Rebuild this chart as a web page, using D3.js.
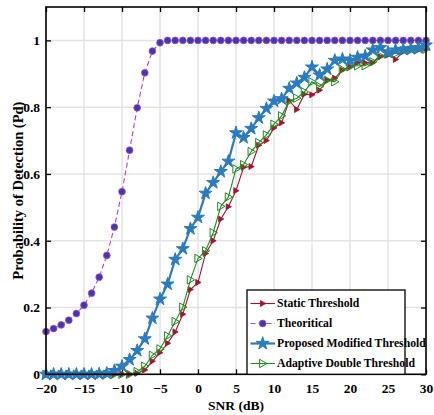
<!DOCTYPE html>
<html>
<head>
<meta charset="utf-8">
<script src="https://cdn.jsdelivr.net/npm/d3@7"></script>
<style>
  html, body { margin: 0; padding: 0; background: #fff; }
  svg { display: block; }
  text { font-family: "Liberation Serif", "Times New Roman", serif; font-weight: bold; }
</style>
</head>
<body>
<svg id="chart" width="434" height="415"></svg>
<script>
// SNR values in dB
const snr = d3.range(-20, 31, 1);

// Probability of detection for each method (one value per SNR step)
const staticThreshold = [
  0, 0, 0, 0, 0, 0, 0, 0, 0, 0, 0, 0, 0.003, 0.013, 0.039, 0.065, 0.093, 0.127, 0.18, 0.254,
  0.275, 0.362, 0.4, 0.465, 0.502, 0.55, 0.62, 0.622, 0.686, 0.70, 0.738, 0.753, 0.82, 0.793, 0.839,
  0.837, 0.851, 0.881, 0.887, 0.911, 0.921, 0.933, 0.933, 0.933, 0.951, 0.956, 0.943, 0.966, 0.971, 0.973, 0.976
];
const theoretical = [
  0.128, 0.137, 0.148, 0.162, 0.182, 0.207, 0.243, 0.291, 0.356, 0.441, 0.547, 0.671, 0.798, 0.903, 0.968, 0.993,
  1, 1, 1, 1, 1, 1, 1, 1, 1, 1, 1, 1, 1, 1, 1, 1, 1, 1, 1,
  1, 1, 1, 1, 1, 1, 1, 1, 1, 1, 1, 1, 1, 1, 1, 1
];
const proposed = [
  0, 0, 0, 0, 0, 0, 0, 0.001, 0.003, 0.011, 0.024, 0.044, 0.071, 0.106, 0.168, 0.225, 0.27, 0.344, 0.376, 0.436,
  0.47, 0.542, 0.574, 0.607, 0.638, 0.723, 0.709, 0.736, 0.768, 0.796, 0.818, 0.825, 0.856, 0.872, 0.889,
  0.92, 0.896, 0.914, 0.94, 0.944, 0.94, 0.949, 0.953, 0.971, 0.978, 0.964, 0.971, 0.973, 0.975, 0.978, 0.986
];
const adaptive = [
  0, 0, 0, 0, 0, 0, 0, 0, 0, 0, 0, 0, 0.008, 0.024, 0.057, 0.076, 0.115, 0.158, 0.201, 0.283,
  0.347, 0.37, 0.424, 0.503, 0.531, 0.615, 0.628, 0.667, 0.694, 0.717, 0.749, 0.774, 0.818, 0.827, 0.846,
  0.876, 0.862, 0.881, 0.876, 0.913, 0.921, 0.924, 0.924, 0.936, 0.953, 0.959, 0.961, 0.969, 0.971, 0.973, 0.974
];

const xTicks = [-20, -15, -10, -5, 0, 5, 10, 15, 20, 25, 30];
const yTicks = [0, 0.2, 0.4, 0.6, 0.8, 1];
const seriesNames = ["Static Threshold", "Theoritical", "Proposed Modified Threshold", "Adaptive Double Threshold"];

const svg = d3.select("#chart");
const m = { left: 46, right: 426, top: 7, bottom: 374.3 };

const x = d3.scaleLinear().domain([-20, 30]).range([m.left, m.right]);
const y = d3.scaleLinear().domain([0, 1.1]).range([m.bottom, m.top]);

// grid
const grid = svg.append("g");
grid.selectAll(".gx").data(xTicks).join("line")
  .attr("x1", d => x(d)).attr("x2", d => x(d)).attr("y1", m.top).attr("y2", m.bottom)
  .attr("stroke", "#e3e3e3").attr("stroke-width", 1.5);
grid.selectAll(".gy").data(yTicks).join("line")
  .attr("x1", m.left).attr("x2", m.right).attr("y1", d => y(d)).attr("y2", d => y(d))
  .attr("stroke", "#e3e3e3").attr("stroke-width", 1.5);

// axes with inward ticks on all four sides
const tickLen = 5;
const bottomAxis = d3.axisBottom(x).tickValues(xTicks).tickSizeInner(-tickLen).tickSizeOuter(0).tickPadding(9);
const leftAxis = d3.axisLeft(y).tickValues(yTicks).tickSizeInner(-tickLen).tickSizeOuter(0).tickPadding(6)
  .tickFormat(d => d === 0 ? "0" : d === 1 ? "1" : d3.format(".1f")(d));
const topAxis = d3.axisTop(x).tickValues(xTicks).tickSizeInner(-tickLen).tickSizeOuter(0).tickFormat("");
const rightAxis = d3.axisRight(y).tickValues(yTicks).tickSizeInner(-tickLen).tickSizeOuter(0).tickFormat("");

function styleAxis(g) {
  g.select(".domain").remove();
  g.selectAll(".tick line").attr("stroke", "#000").attr("stroke-width", 1.3);
  g.selectAll(".tick text").attr("fill", "#000")
    .style("font-family", '"Liberation Serif", serif').style("font-weight", "bold").style("font-size", "13.5px");
}
svg.append("g").attr("transform", `translate(0,${m.bottom})`).call(bottomAxis).call(styleAxis);
svg.append("g").attr("transform", `translate(${m.left},0)`).call(leftAxis).call(styleAxis);
svg.append("g").attr("transform", `translate(0,${m.top})`).call(topAxis).call(styleAxis);
svg.append("g").attr("transform", `translate(${m.right},0)`).call(rightAxis).call(styleAxis);

// axis titles
svg.append("text").attr("x", (m.left + m.right) / 2).attr("y", 410)
  .attr("text-anchor", "middle").style("font-size", "13.5px").text("SNR (dB)");
svg.append("text").attr("transform", `translate(20,${(m.top + m.bottom) / 2}) rotate(-90)`)
  .attr("text-anchor", "middle").attr("dominant-baseline", "middle").style("font-size", "14.5px")
  .text("Probability of Detection (Pd)");

// marker shapes
const triRight = s => `M${-s * 0.75},${-s}L${s},0L${-s * 0.75},${s}Z`;
const starPath = d3.symbol().type(d3.symbolStar).size(52)();

const series = [
  { name: seriesNames[0], values: staticThreshold, color: "#a2142f", width: 1.1, dash: null,
    marker: g => g.append("path").attr("d", triRight(3)).attr("fill", "#a2142f").attr("stroke", "#a2142f").attr("stroke-width", 0.8) },
  { name: seriesNames[1], values: theoretical, color: "#c13bc1", width: 1.1, dash: "5,3",
    marker: g => g.append("circle").attr("r", 3.4).attr("fill", "#3d3cae").attr("stroke", "#b548c8").attr("stroke-width", 0.8) },
  { name: seriesNames[2], values: proposed, color: "#2b7bbf", width: 2.2, dash: null,
    marker: g => g.append("path").attr("d", starPath).attr("fill", "#2b7bbf").attr("stroke", "#2b7bbf").attr("stroke-width", 1) },
  { name: seriesNames[3], values: adaptive, color: "#1e8c1e", width: 1.1, dash: null,
    marker: g => g.append("path").attr("d", triRight(4.2)).attr("fill", "none").attr("stroke", "#1e8c1e").attr("stroke-width", 1) }
];

const line = d3.line().x(d => x(d[0])).y(d => y(d[1]));

// draw order: theoretical, static, adaptive, proposed
[1, 0, 3, 2].forEach(i => {
  const s = series[i];
  const pts = snr.map((v, k) => [v, s.values[k]]);
  const g = svg.append("g");
  g.append("path").attr("d", line(pts)).attr("fill", "none")
    .attr("stroke", s.color).attr("stroke-width", s.width)
    .attr("stroke-dasharray", s.dash);
  pts.forEach(p => {
    const mg = g.append("g").attr("transform", `translate(${x(p[0])},${y(p[1])})`);
    s.marker(mg);
  });
});

// frame
svg.append("rect").attr("x", m.left).attr("y", m.top)
  .attr("width", m.right - m.left).attr("height", m.bottom - m.top)
  .attr("fill", "none").attr("stroke", "#000").attr("stroke-width", 1.6);

// legend
const lg = svg.append("g");
lg.append("rect").attr("x", 247).attr("y", 290).attr("width", 158).attr("height", 84.3)
  .attr("fill", "#fff").attr("stroke", "#000").attr("stroke-width", 1.3);
series.forEach((s, i) => {
  const yy = 303.5 + i * 20;
  lg.append("line").attr("x1", 250.5).attr("x2", 275).attr("y1", yy).attr("y2", yy)
    .attr("stroke", s.color).attr("stroke-width", s.width).attr("stroke-dasharray", s.dash);
  const mg = lg.append("g").attr("transform", `translate(262.7,${yy})`);
  s.marker(mg);
  lg.append("text").attr("x", 277).attr("y", yy).attr("dominant-baseline", "central")
    .style("font-size", "11.7px").text(s.name);
});
</script>
</body>
</html>
